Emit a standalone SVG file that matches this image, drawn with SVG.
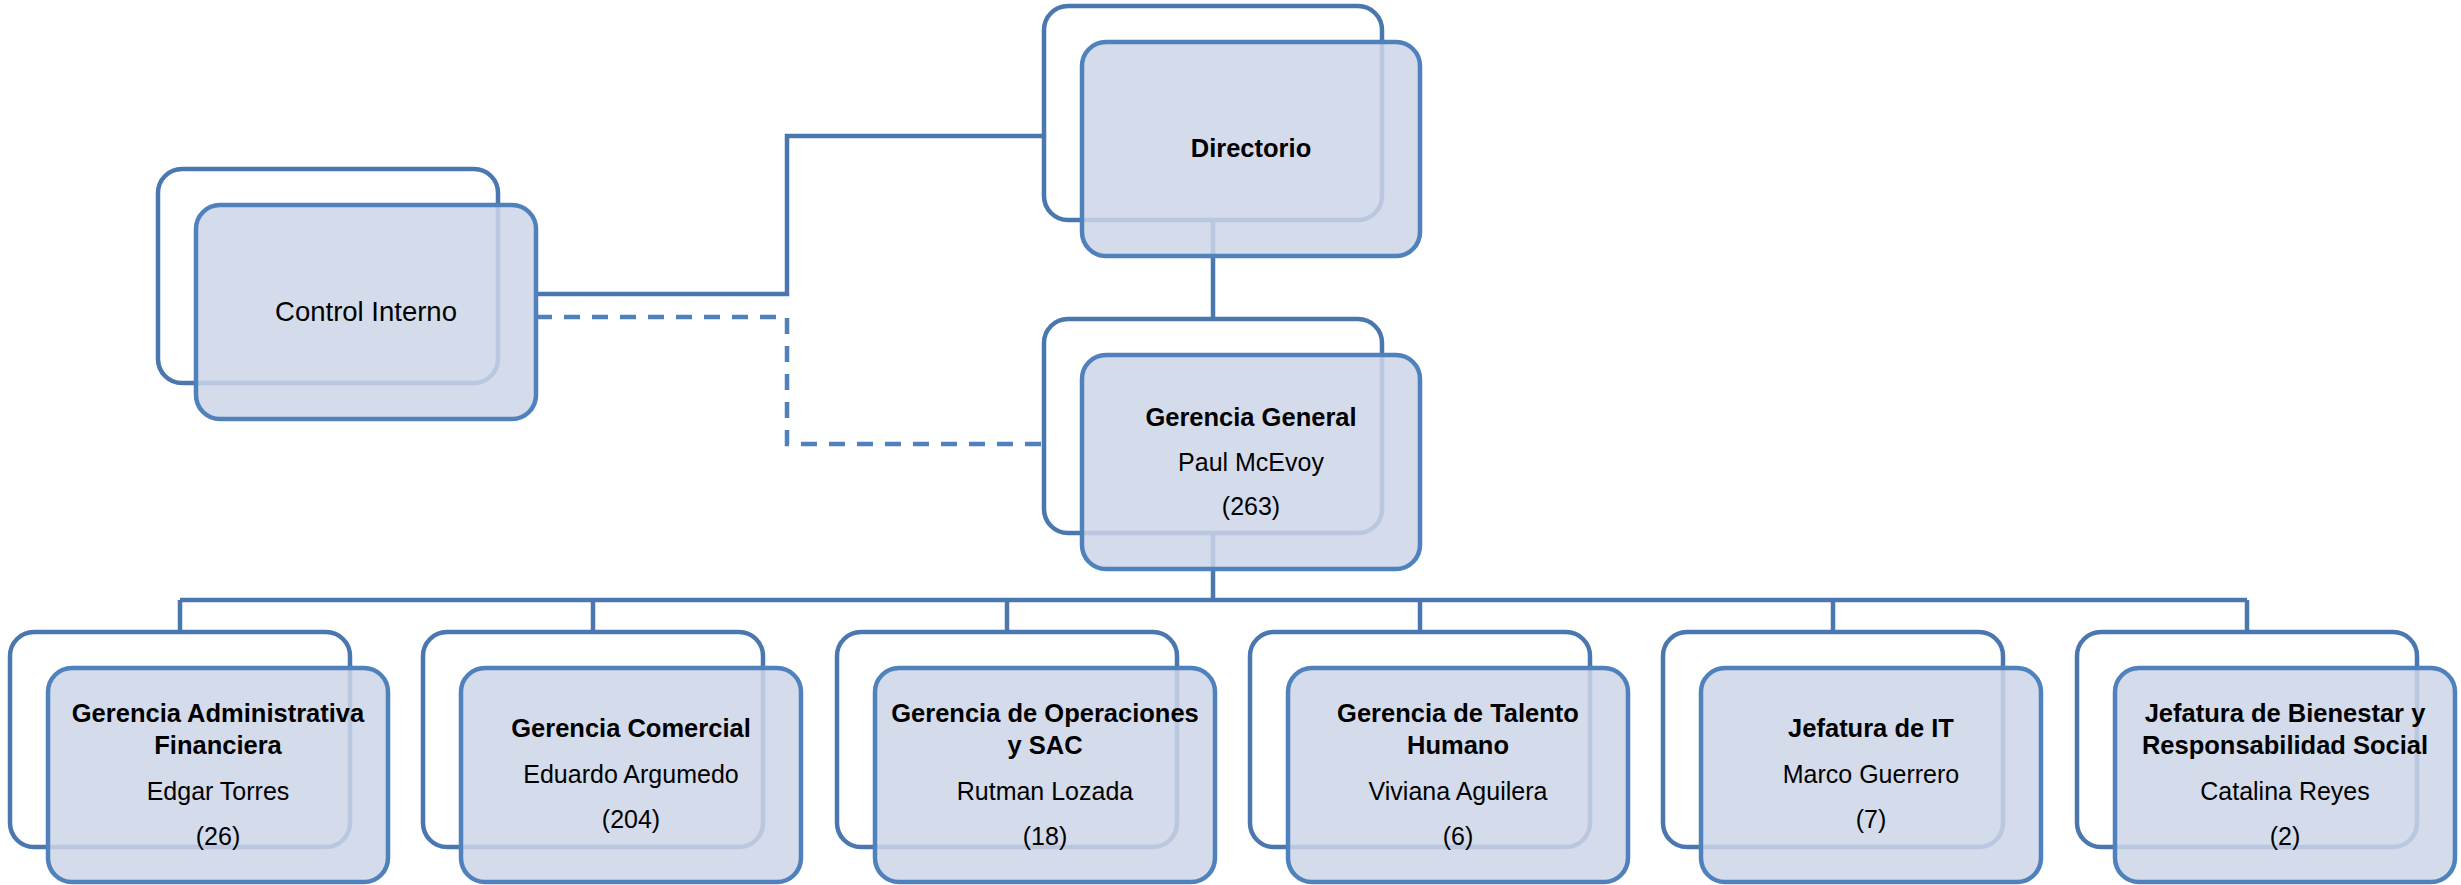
<svg xmlns="http://www.w3.org/2000/svg" width="2461" height="885" viewBox="0 0 2461 885">
  <style>
    .back { fill: none; stroke: #4A77AF; stroke-width: 4.5; }
    .front { fill: #CDD5E7; fill-opacity: 0.85; stroke: #4F81BD; stroke-width: 4.5; }
    .link { fill: none; stroke: #4A77AF; stroke-width: 4.5; }
    .dash { fill: none; stroke: #4F81BD; stroke-width: 4.5; stroke-dasharray: 16 12; }
    text { font-family: "Liberation Sans", Arial, sans-serif; fill: #000; text-anchor: middle; }
    .b { font-weight: bold; font-size: 25.5px; }
    .r { font-size: 25px; }
    .big { font-size: 27.5px; }
  </style>

  <!-- connectors -->
  <g id="connectors">
    <path class="link" d="M536 294 H787 V136 H1044"/>
    <path class="dash" d="M536 317 H787 V444 H1044"/>
    <path class="link" d="M1213 220 V319"/>
    <path class="link" d="M1213 533 V600"/>
    <path class="link" d="M180 600 H2247"/>
    <path class="link" d="M180 600 V632"/>
    <path class="link" d="M593 600 V632"/>
    <path class="link" d="M1007 600 V632"/>
    <path class="link" d="M1420 600 V632"/>
    <path class="link" d="M1833 600 V632"/>
    <path class="link" d="M2247 600 V632"/>
  </g>

  <g id="control-interno">
    <rect class="back" x="158" y="169" width="340" height="214" rx="24"/>
    <rect class="front" x="196" y="205" width="340" height="214" rx="24"/>
    <text class="big" x="366" y="321">Control Interno</text>
  </g>

  <g id="directorio">
    <rect class="back" x="1044" y="6" width="338" height="214" rx="24"/>
    <rect class="front" x="1082" y="42" width="338" height="214" rx="24"/>
    <text class="b" x="1251" y="157">Directorio</text>
  </g>

  <g id="gerencia-general">
    <rect class="back" x="1044" y="319" width="338" height="214" rx="24"/>
    <rect class="front" x="1082" y="355" width="338" height="214" rx="24"/>
    <text class="b" x="1251" y="426">Gerencia General</text>
    <text class="r" x="1251" y="471">Paul McEvoy</text>
    <text class="r" x="1251" y="515">(263)</text>
  </g>

  <g id="gerencia-administrativa">
    <rect class="back" x="10" y="632" width="340" height="215" rx="24"/>
    <rect class="front" x="48" y="668" width="340" height="214" rx="24"/>
    <text class="b" x="218" y="722">Gerencia Administrativa</text>
    <text class="b" x="218" y="754">Financiera</text>
    <text class="r" x="218" y="800">Edgar Torres</text>
    <text class="r" x="218" y="845">(26)</text>
  </g>

  <g id="gerencia-comercial">
    <rect class="back" x="423" y="632" width="340" height="215" rx="24"/>
    <rect class="front" x="461" y="668" width="340" height="214" rx="24"/>
    <text class="b" x="631" y="737">Gerencia Comercial</text>
    <text class="r" x="631" y="783">Eduardo Argumedo</text>
    <text class="r" x="631" y="828">(204)</text>
  </g>

  <g id="gerencia-operaciones">
    <rect class="back" x="837" y="632" width="340" height="215" rx="24"/>
    <rect class="front" x="875" y="668" width="340" height="214" rx="24"/>
    <text class="b" x="1045" y="722">Gerencia de Operaciones</text>
    <text class="b" x="1045" y="754">y SAC</text>
    <text class="r" x="1045" y="800">Rutman Lozada</text>
    <text class="r" x="1045" y="845">(18)</text>
  </g>

  <g id="gerencia-talento-humano">
    <rect class="back" x="1250" y="632" width="340" height="215" rx="24"/>
    <rect class="front" x="1288" y="668" width="340" height="214" rx="24"/>
    <text class="b" x="1458" y="722">Gerencia de Talento</text>
    <text class="b" x="1458" y="754">Humano</text>
    <text class="r" x="1458" y="800">Viviana Aguilera</text>
    <text class="r" x="1458" y="845">(6)</text>
  </g>

  <g id="jefatura-it">
    <rect class="back" x="1663" y="632" width="340" height="215" rx="24"/>
    <rect class="front" x="1701" y="668" width="340" height="214" rx="24"/>
    <text class="b" x="1871" y="737">Jefatura de IT</text>
    <text class="r" x="1871" y="783">Marco Guerrero</text>
    <text class="r" x="1871" y="828">(7)</text>
  </g>

  <g id="jefatura-bienestar">
    <rect class="back" x="2077" y="632" width="340" height="215" rx="24"/>
    <rect class="front" x="2115" y="668" width="340" height="214" rx="24"/>
    <text class="b" x="2285" y="722">Jefatura de Bienestar y</text>
    <text class="b" x="2285" y="754">Responsabilidad Social</text>
    <text class="r" x="2285" y="800">Catalina Reyes</text>
    <text class="r" x="2285" y="845">(2)</text>
  </g>
</svg>
